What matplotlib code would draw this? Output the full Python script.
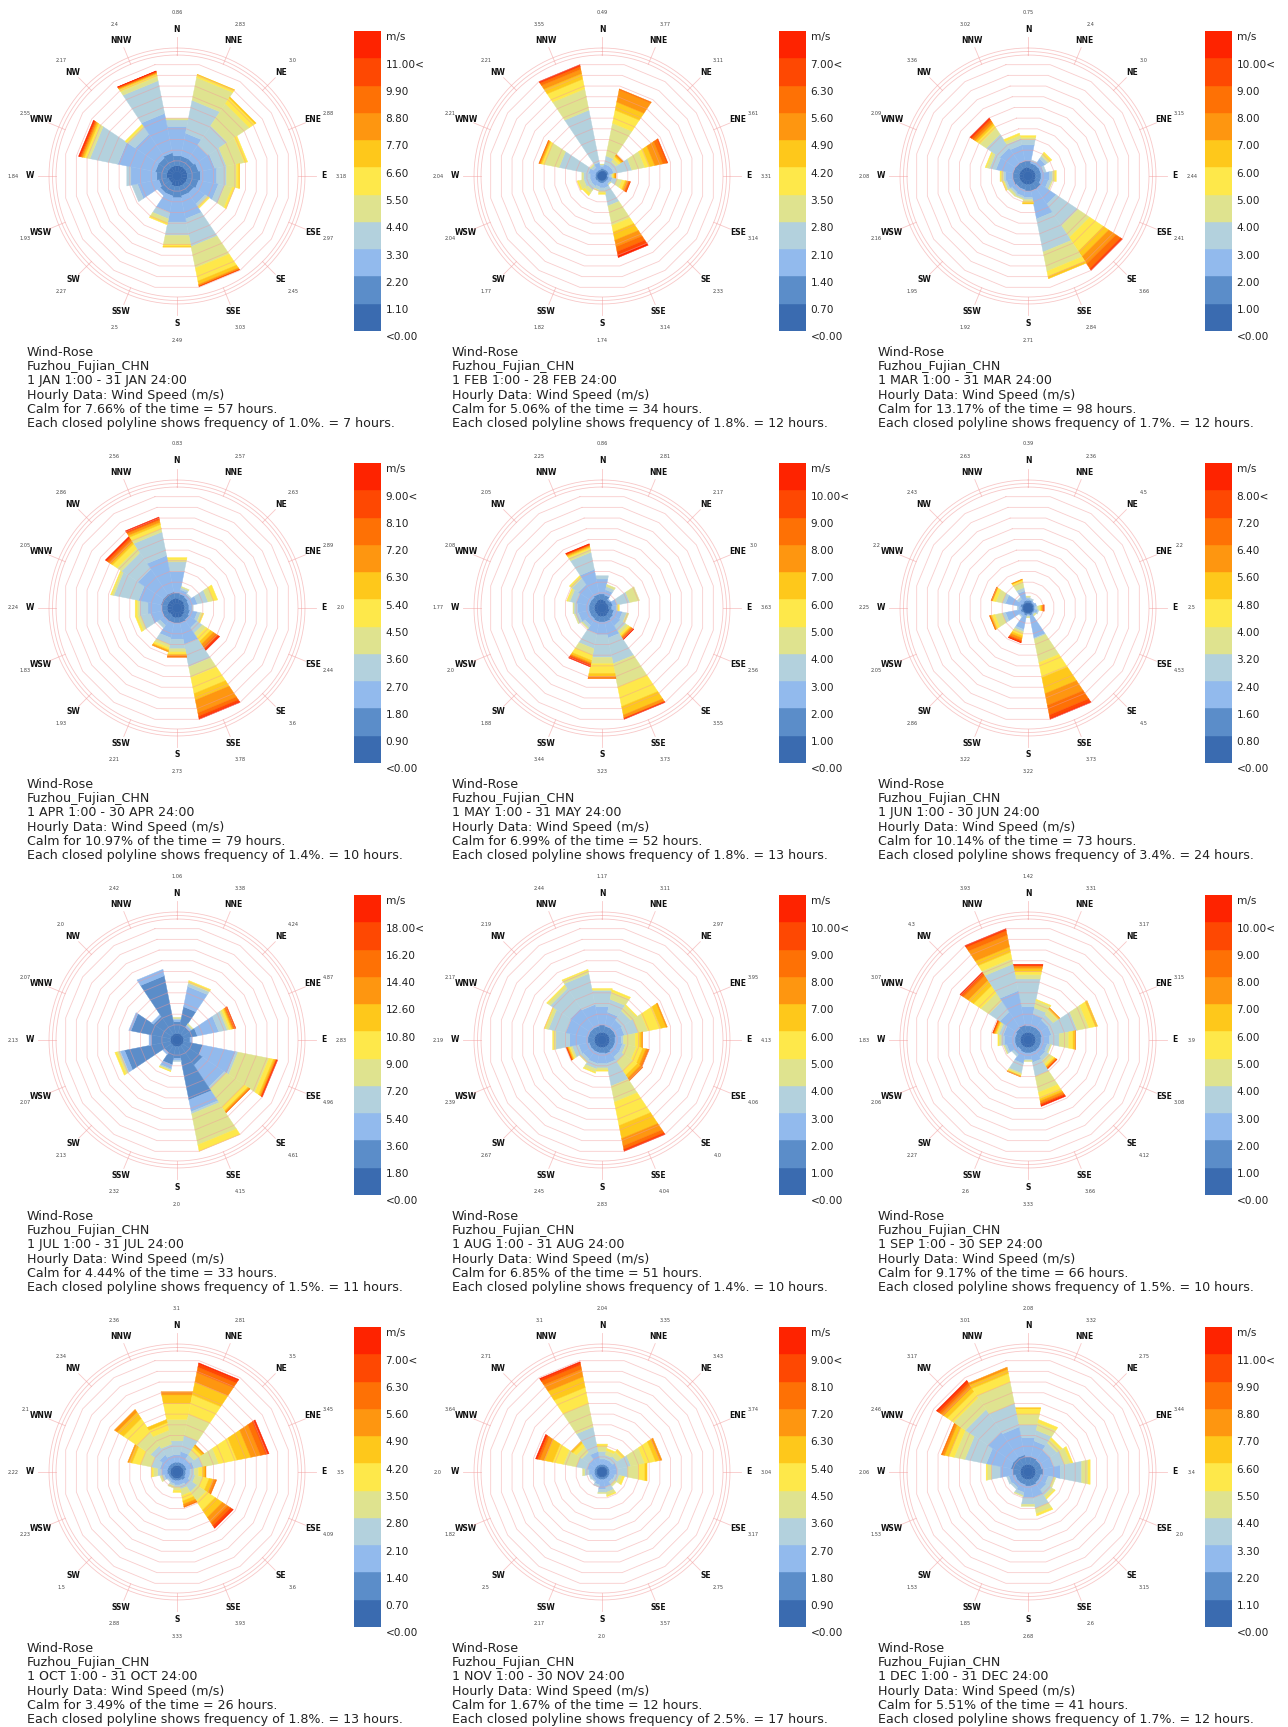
import numpy as np
import matplotlib
matplotlib.use("Agg")
import matplotlib.pyplot as plt
import matplotlib.transforms as mtransforms

plt.rcParams['font.family'] = ['DejaVu Sans']

W, H = 1288, 1727
DIRECTIONS = ["N", "NNE", "NE", "ENE", "E", "ESE", "SE", "SSE",
              "S", "SSW", "SW", "WSW", "W", "WNW", "NW", "NNW"]
BIN_COLORS = ['#3a6bb0', '#5b8dc9', '#92baed', '#b3d1dd', '#dfe38f', '#fee84a',
              '#fec81b', '#fe9610', '#fe7105', '#fe4802', '#fe2300']
LOCATION = "Fuzhou_Fujian_CHN"

# ---- stacked petals: cumulative outer edge of each speed bin, in ring units ----
jan_stack = [
    [0.55, 1.47, 4.22, 4.83, 4.98],
    [0.55, 1.47, 3.6, 6.67, 8.8, 9.05, 9.11],
    [0.55, 1.47, 3.0, 5.14, 7.58, 8.2, 8.32],
    [0.55, 1.62, 3.15, 4.22, 5.9, 6.2],
    [0.55, 1.77, 3.3, 4.22, 5.14, 5.38, 5.44],
    [0.55, 1.62, 3.46, 4.07, 4.77, 5.0],
    [0.55, 1.47, 2.7, 2.94, 3.06, 3.18],
    [0.55, 1.47, 3.6, 6.2, 8.2, 9.42, 9.72, 9.85, 9.9, 9.94],
    [0.55, 1.62, 3.9, 5.14, 5.96, 6.18, 6.24],
    [0.55, 1.47, 3.0, 3.6, 3.98, 4.16],
    [0.4, 1.47, 1.77],
    [0.4, 1.3, 3.3, 3.82],
    [0.55, 1.47, 3.9, 4.28],
    [0.55, 1.62, 5.14, 7.74, 8.04, 8.26, 8.41, 8.53, 8.62, 8.72, 8.8],
    [0.55, 1.62, 4.22, 4.98, 5.14, 5.32],
    [0.55, 1.77, 5.44, 8.5, 8.9, 9.11, 9.2, 9.27, 9.33, 9.39, 9.42],
]
feb_stack = [
    [0.1, 0.3, 0.5, 0.65, 0.7],
    [0.1, 0.25, 0.7, 1.47, 4.53, 5.75, 6.51, 7.65, 7.74],
    [0.1, 0.25, 0.7, 1.16, 1.47, 1.71, 1.83, 1.96],
    [0.1, 0.25, 0.7, 2.39, 3.61, 4.07, 4.53, 5.29, 5.66, 5.75],
    [0.05, 0.1, 0.3, 0.5, 0.6, 0.7, 0.8, 0.9],
    [0.05, 0.2, 0.55, 1.0, 1.47, 1.77, 1.93, 2.08, 2.2, 2.26],
    [0.05, 0.2, 0.45, 0.55, 0.6],
    [0.05, 0.2, 0.7, 2.39, 4.22, 4.83, 5.6, 6.21, 6.67, 7.03, 7.22],
    [0.05, 0.25, 0.7, 1.0, 1.16, 1.3],
    [0.05, 0.25, 0.6, 0.9, 1.0],
    [0.05, 0.2, 0.7, 1.16, 1.53, 1.77],
    [0.05, 0.25, 0.7, 1.3, 1.77, 1.93],
    [0.05, 0.2, 0.7, 1.3, 1.47],
    [0.05, 0.2, 0.86, 3.61, 4.98, 5.23, 5.35, 5.44, 5.5],
    [0.05, 0.2, 0.55, 0.8, 0.92],
    [0.05, 0.2, 0.86, 5.75, 7.74, 8.65, 9.17, 9.57, 9.82, 9.94, 10.0],
]
mar_stack = [
    [0.4, 1.0, 2.5, 3.0, 3.2, 3.36],
    [0.3, 0.8, 1.0, 1.1],
    [0.3, 0.8, 1.5, 1.8, 2.0, 2.23],
    [0.3, 0.8, 1.1, 1.3],
    [0.3, 0.8, 1.6, 1.9, 2.1, 2.23],
    [0.3, 0.8, 1.5, 1.8, 1.9],
    [0.4, 1.0, 2.7, 5.1, 6.4, 7.9, 8.5, 9.3, 9.8, 9.95, 10.0],
    [0.4, 1.0, 3.6, 6.7, 8.5, 9.0, 9.2],
    [0.4, 1.0, 1.6, 1.8, 2.0, 2.1, 2.2],
    [0.4, 0.9, 1.5, 1.7, 1.8],
    [0.4, 0.9, 1.4, 1.6, 1.8],
    [0.4, 1.0, 1.6, 1.8, 1.9, 2.0],
    [0.4, 1.0, 1.7, 1.9, 2.1, 2.2],
    [0.4, 1.0, 2.6, 3.2, 3.5, 3.6],
    [0.4, 1.0, 2.7, 4.2, 4.9, 5.2, 5.4, 5.6, 5.8, 5.9, 6.0],
    [0.4, 1.0, 2.5, 3.1, 3.4, 3.6],
]
apr_stack = [
    [0.5, 1.0, 3.0, 3.9, 4.1, 4.3],
    [0.4, 0.9, 1.3, 1.5, 1.6],
    [0.4, 0.8, 1.1, 1.2],
    [0.3, 0.7, 1.5, 2.5, 3.0, 3.4],
    [0.3, 0.7, 1.0, 1.1],
    [0.3, 0.8, 1.5, 1.8, 2.0, 2.1],
    [0.4, 0.9, 1.8, 2.4, 2.8, 3.3, 3.6, 3.9, 4.1, 4.2, 4.3],
    [0.5, 1.0, 3.0, 5.1, 6.1, 7.6, 8.2, 9.4, 9.7, 9.9, 10.0],
    [0.5, 1.0, 2.5, 3.4, 3.7, 3.9, 4.0, 4.1, 4.2],
    [0.5, 1.0, 2.4, 3.0, 3.3, 3.5, 3.6, 3.7],
    [0.4, 1.0, 1.5, 1.8],
    [0.5, 1.0, 2.1, 3.0, 3.3, 3.5],
    [0.5, 1.0, 2.3, 3.1, 3.3, 3.5],
    [0.5, 1.1, 3.2, 5.5, 5.7, 5.8],
    [0.5, 1.1, 3.9, 5.7, 6.2, 6.7, 6.9, 7.1, 7.3, 7.4, 7.5],
    [0.5, 1.1, 4.5, 6.7, 7.0, 7.4, 7.6, 7.8, 7.9, 8.0, 8.1],
]
may_stack = [
    [0.4, 0.9, 2.3, 2.6],
    [0.3, 0.8, 1.3, 1.6, 1.8],
    [0.2, 0.5, 0.6],
    [0.2, 0.6, 1.0, 2.2, 3.1],
    [0.2, 0.5, 0.9, 1.0, 1.1, 1.2],
    [0.3, 0.7, 1.5, 1.9, 2.1],
    [0.3, 0.8, 1.6, 2.2, 2.5, 2.7, 2.8, 2.9, 3.0, 3.05, 3.1],
    [0.4, 0.9, 2.4, 4.8, 7.0, 8.8, 9.6, 9.85, 9.92, 9.96, 10.0],
    [0.4, 0.9, 2.1, 4.2, 4.8, 5.7, 6.0, 6.1, 6.2],
    [0.4, 0.9, 2.0, 3.4, 4.0, 4.5, 4.7, 4.8, 4.9, 5.0, 5.1],
    [0.3, 0.8, 1.5, 1.8, 1.9],
    [0.3, 0.8, 1.8, 2.1, 2.2],
    [0.3, 0.8, 1.9, 2.2, 2.3],
    [0.3, 0.8, 2.0, 2.6, 2.8, 2.9],
    [0.3, 0.8, 2.2, 2.9, 3.1, 3.2],
    [0.4, 0.9, 3.2, 4.8, 5.1, 5.25, 5.35, 5.45, 5.5, 5.55, 5.6],
]
jun_stack = [
    [0.1, 0.3, 0.5, 0.6, 0.7],
    [0.1, 0.3, 0.4, 0.5],
    [0.1, 0.2, 0.3],
    [0.1, 0.2, 0.4],
    [0.05, 0.15, 0.3, 0.5, 0.7, 0.8, 0.9, 1.0, 1.05, 1.1],
    [0.1, 0.2, 0.5, 0.6],
    [0.1, 0.2, 0.3, 0.4, 0.5],
    [0.1, 0.3, 2.4, 2.5, 4.7, 6.1, 7.6, 8.7, 9.6, 9.9, 10.0],
    [0.1, 0.2, 0.3, 0.4, 0.5],
    [0.1, 0.3, 1.6, 1.8, 2.0, 2.2, 2.4, 2.6, 2.7, 2.8, 2.85],
    [0.1, 0.2, 0.5, 0.6],
    [0.1, 0.3, 1.7, 2.0, 2.7, 3.0, 3.1, 3.15, 3.2],
    [0.1, 0.2, 0.5, 0.6],
    [0.1, 0.3, 1.7, 2.0, 2.6, 2.9, 2.95, 3.0, 3.05],
    [0.1, 0.2, 0.6, 0.8],
    [0.1, 0.3, 1.2, 1.5, 2.0, 2.2, 2.25, 2.3],
]
jul_stack = [
    [0.2, 1.3, 1.5, 1.6, 1.7],
    [0.2, 2.7, 4.6, 4.9, 5.0, 5.15],
    [0.2, 1.0, 1.2, 1.3, 1.4],
    [0.2, 1.5, 3.5, 4.3, 4.5, 4.7, 4.8, 4.9, 5.0, 5.1],
    [0.2, 0.8, 1.0],
    [0.2, 2.0, 5.1, 5.3, 8.2, 8.6, 8.75, 8.85, 8.9, 8.95, 9.0],
    [0.2, 2.4, 4.8, 5.0, 7.0, 7.4, 7.5, 7.6, 7.65],
    [0.2, 5.2, 6.3, 6.5, 9.4, 10.0],
    [0.2, 1.3, 1.5, 1.6],
    [0.2, 1.9, 2.3, 2.4, 2.5, 2.55],
    [0.2, 1.0, 1.2],
    [0.2, 4.5, 4.9, 5.0, 5.2, 5.4],
    [0.2, 2.0, 2.2],
    [0.2, 3.9, 4.1],
    [0.2, 2.2, 2.4],
    [0.2, 5.6, 6.2],
]
aug_stack = [
    [0.3, 1.0, 2.7, 4.2, 4.3, 4.4],
    [0.3, 0.9, 2.2, 3.4, 4.1, 4.3],
    [0.3, 0.9, 1.8, 2.8, 3.4, 3.5],
    [0.3, 0.9, 1.7, 3.0, 3.9, 5.1, 5.6, 5.7],
    [0.3, 0.8, 1.4, 1.6, 2.7, 3.1, 3.3, 3.4],
    [0.3, 0.8, 1.5, 1.8, 2.8, 3.4, 3.7, 3.9, 4.0],
    [0.3, 0.8, 1.5, 2.0, 3.0, 3.5, 3.8, 4.0, 4.1],
    [0.3, 0.9, 1.8, 3.9, 5.4, 7.6, 8.8, 9.5, 9.8, 9.95, 10.0],
    [0.3, 0.8, 1.8, 2.2, 2.4, 2.5],
    [0.3, 0.8, 1.8, 2.3, 2.6, 2.7],
    [0.3, 0.8, 1.7, 2.0, 2.1],
    [0.3, 0.8, 1.8, 2.4, 2.6, 2.7, 2.8, 2.85, 2.9, 2.95],
    [0.3, 0.9, 2.6, 3.9, 4.1, 4.2],
    [0.3, 0.9, 3.0, 4.6, 4.9, 5.0],
    [0.3, 0.9, 3.1, 5.3, 5.6, 5.7],
    [0.3, 0.9, 2.9, 5.8, 6.1, 6.2],
]
sep_stack = [
    [0.3, 0.9, 2.7, 5.3, 5.7, 6.0, 6.3, 6.45, 6.55, 6.6, 6.65],
    [0.3, 0.9, 2.0, 2.6, 3.3, 3.4],
    [0.3, 0.9, 1.8, 2.4, 2.9, 3.0, 3.1, 3.15],
    [0.3, 0.9, 1.8, 4.2, 5.3, 5.9, 6.1],
    [0.3, 0.8, 1.6, 2.5, 3.4, 3.8, 4.0, 4.05],
    [0.3, 0.8, 1.4, 1.7, 1.8],
    [0.3, 0.8, 1.5, 1.9, 2.3, 2.5, 2.6, 2.7, 2.75, 2.8],
    [0.3, 0.8, 1.7, 3.0, 4.5, 5.1, 5.3, 5.5, 5.6, 5.7, 5.8],
    [0.3, 0.8, 1.4, 1.5, 1.6],
    [0.3, 0.8, 1.8, 2.7, 2.85, 2.95, 3.0, 3.05],
    [0.3, 0.7, 1.2, 1.4],
    [0.3, 0.8, 1.6, 1.8, 1.9],
    [0.3, 0.8, 1.8, 2.1, 2.3, 2.4],
    [0.3, 0.8, 1.9, 2.3, 2.5, 2.6, 2.7, 2.8, 2.85, 2.9],
    [0.3, 0.9, 2.7, 3.9, 4.8, 5.6, 6.2, 6.7, 6.9, 7.05, 7.1],
    [0.3, 1.0, 4.2, 6.7, 7.2, 7.8, 8.3, 9.4, 9.8, 9.95, 10.0],
]
oct_stack = [
    [0.2, 0.5, 1.2, 2.5, 4.5, 6.0, 6.8, 7.1],
    [0.2, 0.5, 1.5, 3.0, 5.0, 6.8, 8.0, 8.9, 9.4, 9.7, 9.8],
    [0.2, 0.5, 1.0, 1.5, 2.0, 2.3, 2.5, 2.6],
    [0.2, 0.5, 1.2, 2.0, 3.5, 5.2, 6.5, 7.4, 7.9, 8.1, 8.2],
    [0.2, 0.4, 0.8, 1.2, 1.6, 2.0, 2.2, 2.3],
    [0.2, 0.4, 0.8, 1.3, 2.0, 2.6, 3.0, 3.2, 3.3],
    [0.2, 0.5, 1.0, 1.8, 2.8, 3.8, 4.6, 5.2, 5.5, 5.7, 5.8],
    [0.2, 0.4, 0.8, 1.2, 1.8, 2.3, 2.6, 2.8, 2.9],
    [0.2, 0.4, 0.8, 1.0, 1.3, 1.5],
    [0.2, 0.4, 0.7, 0.9, 1.1],
    [0.2, 0.4, 0.6, 0.7],
    [0.2, 0.4, 0.8, 1.0, 1.2],
    [0.2, 0.5, 1.0, 1.4, 1.8, 2.0],
    [0.2, 0.5, 1.2, 2.0, 3.0, 3.8, 4.1, 4.2],
    [0.2, 0.5, 1.5, 2.5, 4.0, 5.5, 6.2, 6.5],
    [0.2, 0.5, 1.2, 2.2, 3.5, 4.2, 4.5],
]
nov_stack = [
    [0.1, 0.3, 0.8, 1.5, 2.0, 2.2],
    [0.1, 0.3, 0.8, 1.2, 1.6, 1.8],
    [0.1, 0.3, 0.8, 1.3, 1.8, 2.1],
    [0.1, 0.3, 1.0, 2.3, 3.6, 4.6, 5.0, 5.2],
    [0.1, 0.3, 1.0, 2.0, 3.0, 3.6, 3.8],
    [0.1, 0.3, 0.8, 1.2, 1.5, 1.7],
    [0.1, 0.3, 0.7, 1.0, 1.2],
    [0.1, 0.3, 1.0, 1.5, 1.8, 1.9],
    [0.1, 0.3, 1.2, 1.5, 1.6],
    [0.1, 0.3, 0.8, 1.0],
    [0.1, 0.3, 0.6, 0.7],
    [0.1, 0.3, 0.6, 0.8],
    [0.1, 0.3, 0.8, 1.2, 1.4],
    [0.1, 0.3, 1.0, 2.0, 3.2, 4.2, 5.0, 5.4, 5.6, 5.7, 5.8],
    [0.1, 0.3, 1.0, 1.8, 2.4, 2.8, 3.0],
    [0.1, 0.3, 1.5, 3.8, 6.0, 7.5, 8.5, 9.2, 9.6, 9.8, 9.9],
]
dec_stack = [
    [0.3, 1.0, 2.8, 4.0, 5.0, 5.5, 5.6],
    [0.3, 1.0, 2.5, 3.5, 4.2, 4.5],
    [0.3, 0.9, 2.0, 2.8, 3.2, 3.4],
    [0.3, 0.9, 2.0, 3.0, 3.6, 3.8],
    [0.3, 1.0, 2.6, 4.6, 5.2, 5.4],
    [0.3, 0.8, 1.5, 2.0, 2.2],
    [0.3, 0.8, 1.6, 2.2, 2.5, 2.6],
    [0.3, 0.9, 2.0, 3.0, 3.5, 3.7],
    [0.3, 0.9, 2.0, 2.6, 2.8],
    [0.3, 0.8, 1.5, 1.8, 1.9],
    [0.3, 0.8, 1.3, 1.5],
    [0.3, 0.8, 1.4, 1.6],
    [0.3, 1.0, 2.2, 3.0, 3.4, 3.5],
    [0.3, 1.2, 3.5, 5.5, 6.5, 7.0, 7.4, 7.6, 7.7],
    [0.3, 1.2, 4.0, 6.5, 7.8, 8.5, 8.9, 9.2, 9.4, 9.6, 9.7],
    [0.3, 1.2, 3.8, 6.0, 8.0, 8.8, 9.2, 9.4],
]

# ---- average speed labels per direction ----
jan_avg = ["0.86", "2.83", "3.0", "2.88", "3.18", "2.97", "2.45", "3.03", "2.49", "2.5", "2.27", "1.93", "1.84", "2.55", "2.17", "2.4"]
feb_avg = ["0.49", "3.77", "3.11", "3.61", "3.31", "3.14", "2.33", "3.14", "1.74", "1.82", "1.77", "2.04", "2.04", "2.21", "2.21", "3.55"]
mar_avg = ["0.75", "2.4", "3.0", "3.15", "2.44", "2.41", "3.66", "2.84", "2.71", "1.92", "1.95", "2.16", "2.08", "2.09", "3.36", "3.02"]
apr_avg = ["0.83", "2.57", "2.63", "2.89", "2.0", "2.44", "3.6", "3.78", "2.73", "2.21", "1.93", "1.83", "2.24", "2.05", "2.86", "2.56"]
may_avg = ["0.86", "2.81", "2.17", "3.0", "3.63", "2.56", "3.55", "3.73", "3.23", "3.44", "1.88", "2.0", "1.77", "2.08", "2.05", "2.25"]
jun_avg = ["0.39", "2.36", "4.5", "2.2", "2.5", "4.53", "4.5", "3.73", "3.22", "3.22", "2.86", "2.05", "2.25", "2.2", "2.43", "2.63"]
jul_avg = ["1.06", "3.38", "4.24", "4.87", "2.83", "4.96", "4.61", "4.15", "2.0", "2.32", "2.13", "2.07", "2.13", "2.07", "2.0", "2.42"]
aug_avg = ["1.17", "3.11", "2.97", "3.95", "4.13", "4.06", "4.0", "4.04", "2.83", "2.45", "2.67", "2.39", "2.19", "2.17", "2.19", "2.44"]
sep_avg = ["1.42", "3.31", "3.17", "3.15", "3.9", "3.08", "4.12", "3.66", "3.33", "2.6", "2.27", "2.06", "1.83", "3.07", "4.3", "3.93"]
oct_avg = ["3.1", "2.81", "3.5", "3.45", "3.5", "4.09", "3.6", "3.93", "3.33", "2.88", "1.5", "2.23", "2.22", "2.1", "2.34", "2.36"]
nov_avg = ["2.04", "3.35", "3.43", "3.74", "3.04", "3.17", "2.75", "3.57", "2.0", "2.17", "2.5", "1.82", "2.0", "3.64", "2.71", "3.1"]
dec_avg = ["2.08", "3.32", "2.75", "3.44", "3.4", "2.0", "3.15", "2.6", "2.68", "1.85", "1.53", "1.53", "2.06", "2.46", "3.17", "3.01"]

# ---- per-month header values ----
periods = ["1 JAN 1:00 - 31 JAN 24:00", "1 FEB 1:00 - 28 FEB 24:00", "1 MAR 1:00 - 31 MAR 24:00",
           "1 APR 1:00 - 30 APR 24:00", "1 MAY 1:00 - 31 MAY 24:00", "1 JUN 1:00 - 30 JUN 24:00",
           "1 JUL 1:00 - 31 JUL 24:00", "1 AUG 1:00 - 31 AUG 24:00", "1 SEP 1:00 - 30 SEP 24:00",
           "1 OCT 1:00 - 31 OCT 24:00", "1 NOV 1:00 - 30 NOV 24:00", "1 DEC 1:00 - 31 DEC 24:00"]
calm_pct = ["7.66", "5.06", "13.17", "10.97", "6.99", "10.14", "4.44", "6.85", "9.17", "3.49", "1.67", "5.51"]
calm_hours = [57, 34, 98, 79, 52, 73, 33, 51, 66, 26, 12, 41]
ring_pct = ["1.0", "1.8", "1.7", "1.4", "1.8", "3.4", "1.5", "1.4", "1.5", "1.8", "2.5", "1.7"]
ring_hours = [7, 12, 12, 10, 13, 24, 11, 10, 10, 13, 17, 12]
legend_step = [1.1, 0.7, 1.0, 0.9, 1.0, 0.8, 1.8, 1.0, 1.0, 0.7, 0.9, 1.1]

stacks = [jan_stack, feb_stack, mar_stack, apr_stack, may_stack, jun_stack,
          jul_stack, aug_stack, sep_stack, oct_stack, nov_stack, dec_stack]
avgs = [jan_avg, feb_avg, mar_avg, apr_avg, may_avg, jun_avg,
        jul_avg, aug_avg, sep_avg, oct_avg, nov_avg, dec_avg]

# ---- layout (pixels) ----
PX_PER_RING = 10.9
BASE_PX = 4.5
FRAME_PX = 128.0
N_RINGS = 10
COL_X = [177, 602, 1028]
ROW_Y = [176, 608, 1040, 1472]

RING_COLOR = '#f29a9a'

fig = plt.figure(figsize=(W / 100, H / 100), dpi=100)
fig.patch.set_facecolor('white')

half = np.deg2rad(11.25)
poly_theta = np.deg2rad(np.arange(-11.25, 360.0, 22.5))
circ_theta = np.linspace(0, 2 * np.pi, 241)
rmax = (FRAME_PX - BASE_PX) / PX_PER_RING
rmin = -BASE_PX / PX_PER_RING


def u_at(px):
    return (px - BASE_PX) / PX_PER_RING


for m in range(12):
    cx = COL_X[m % 3]
    cy = ROW_Y[m // 3]
    ax = fig.add_axes([(cx - FRAME_PX) / W, 1 - (cy + FRAME_PX) / H,
                       2 * FRAME_PX / W, 2 * FRAME_PX / H], projection='polar')
    ax.set_theta_zero_location('N')
    ax.set_theta_direction(-1)
    ax.set_rlim(rmin, rmax)
    ax.set_axis_off()

    # calm disc
    ax.fill(circ_theta, np.zeros_like(circ_theta), color=BIN_COLORS[0], lw=0.3,
            zorder=2, clip_on=False)
    # petals
    for d, cum in enumerate(stacks[m]):
        th = np.deg2rad(d * 22.5)
        inner = 0.0
        for k, outer in enumerate(cum):
            if outer <= inner:
                continue
            xs = [th - half, th + half, th + half, th - half]
            ys = [inner, inner, outer, outer]
            ax.fill(xs, ys, color=BIN_COLORS[k], lw=0.3, ec=BIN_COLORS[k],
                    zorder=2, clip_on=False)
            inner = outer

    # frequency polylines
    for k in range(1, N_RINGS + 1):
        ax.plot(poly_theta, np.full_like(poly_theta, k), color=RING_COLOR,
                lw=0.6, alpha=0.5, zorder=4, clip_on=False)
    # frame circles
    for px in (121.0, 124.5, 128.0):
        ax.plot(circ_theta, np.full_like(circ_theta, u_at(px)), color=RING_COLOR,
                lw=0.6, alpha=0.55, zorder=4, clip_on=False)
    # direction ticks / labels / values
    for d, name in enumerate(DIRECTIONS):
        th = np.deg2rad(d * 22.5)
        ax.plot([th, th], [u_at(121), u_at(139)], color=RING_COLOR, lw=0.6,
                alpha=0.55, clip_on=False, zorder=4)
        ax.text(th, u_at(147), name, ha='center', va='center', fontsize=5.5,
                fontweight='bold', color='#111111')
        ax.text(th, u_at(164), avgs[m][d], ha='center', va='center', fontsize=3.6,
                color='#444444')

    # legend bar
    lax = fig.add_axes([(cx + 177) / W, 1 - (cy + 155) / H, 27 / W, 300 / H])
    for k in range(11):
        lax.bar(0, 1, bottom=k, width=1, color=BIN_COLORS[k], edgecolor=BIN_COLORS[k], lw=0.3)
    lax.set_xlim(-0.5, 0.5)
    lax.set_ylim(0, 11)
    lax.set_axis_off()
    trans = mtransforms.blended_transform_factory(lax.transAxes, lax.transData)
    step = legend_step[m]
    for k in range(12):
        if k == 0:
            lab = "<0.00"
        elif k == 10:
            lab = f"{k * step:.2f}<"
        elif k == 11:
            lab = "m/s"
        else:
            lab = f"{k * step:.2f}"
        lax.text(1.17, k - 0.05, lab, transform=trans, ha='left', va='top',
                 fontsize=7.6, color='#222222')

    # caption
    lines = ["Wind-Rose", LOCATION, periods[m], "Hourly Data: Wind Speed (m/s)",
             f"Calm for {calm_pct[m]}% of the time = {calm_hours[m]} hours.",
             f"Each closed polyline shows frequency of {ring_pct[m]}%. = {ring_hours[m]} hours."]
    for j, line in enumerate(lines):
        fig.text((cx - 150) / W, 1 - (cy + 176 + 14.4 * j) / H, line, ha='left',
                 va='center', fontsize=9.1, color='#222222')

fig.savefig("out.png", dpi=100, facecolor='white')
